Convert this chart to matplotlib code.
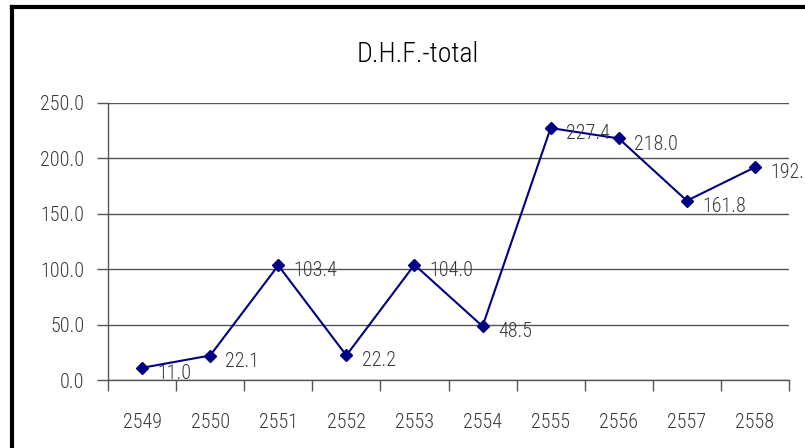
import matplotlib
matplotlib.use("Agg")
import matplotlib.pyplot as plt
from matplotlib.lines import Line2D
from matplotlib import font_manager
import numpy as np

years = ["2549", "2550", "2551", "2552", "2553", "2554", "2555", "2556", "2557", "2558"]
values = [11.0, 22.1, 103.4, 22.2, 104.0, 48.5, 227.4, 218.0, 161.8, 192.0]
yticks = [0, 50, 100, 150, 200, 250]
title = "D.H.F.-total"

# pick an upright condensed / narrow font if one is installed (light weight preferred)
def pick_font():
    entries = [e for e in font_manager.fontManager.ttflist
               if e.style == "normal" and "italic" not in e.fname.lower()
               and "oblique" not in e.fname.lower()]
    prefs = ["Liberation Sans Narrow", "Roboto Condensed", "Open Sans Condensed", "Noto Sans Condensed"]
    for p in prefs:
        for w in (300, 400):
            for e in entries:
                if e.name == p and e.weight == w:
                    return font_manager.FontProperties(fname=e.fname), e.name
    for e in entries:
        st = str(e.stretch).lower()
        if ("condensed" in st or "narrow" in e.fname.lower() or "condensed" in e.fname.lower()) \
                and "bold" not in e.fname.lower():
            return font_manager.FontProperties(fname=e.fname), e.name
    return font_manager.FontProperties(family="DejaVu Sans"), "DejaVu Sans"

FP, FNAME = pick_font()
condensed = FNAME != "DejaVu Sans"

def fp(size):
    p = FP.copy()
    p.set_size(size)
    return p

TEXT = "#3a3a3a"
W, H = 805, 448
fig = plt.figure(figsize=(W / 100, H / 100), dpi=100)
fig.patch.set_facecolor("white")

left, right, top, bottom = 108, 789, 103, 380
ax = fig.add_axes([left / W, 1 - bottom / H, (right - left) / W, (bottom - top) / H])

x = np.arange(len(years))
ax.plot(x, values, color="#000080", lw=1.5, marker="D", ms=6, mfc="#000080", mec="#000080", zorder=3)

lab_size = 14.5 if condensed else 12.5
for xi, v in zip(x, values):
    ax.annotate(f"{v:.1f}", (xi, v), xytext=(11, -4), textcoords="offset points",
                ha="left", va="center", fontproperties=fp(lab_size), color=TEXT, zorder=4)

ax.set_xlim(-0.5, len(years) - 0.5)
ax.set_ylim(0, 250)
ax.set_yticks(yticks)
ax.set_yticklabels([f"{t:.1f}" for t in yticks])
ax.yaxis.grid(True, color="#555555", lw=1)
ax.set_axisbelow(True)

ax.set_xticks(x)
ax.set_xticklabels(years)
ax.set_xticks(np.arange(-0.5, len(years)), minor=True)
ax.tick_params(axis="x", which="major", length=0, pad=24, labelcolor=TEXT)
ax.tick_params(axis="x", which="minor", length=8, width=1, color="#555555", direction="out")
ax.tick_params(axis="y", length=8, width=1, color="#555555", pad=9, labelcolor=TEXT)
for lbl in ax.get_xticklabels() + ax.get_yticklabels():
    lbl.set_fontproperties(fp(lab_size))

for s in ["top", "right"]:
    ax.spines[s].set_visible(False)
for s in ["left", "bottom"]:
    ax.spines[s].set_color("#555555")
    ax.spines[s].set_linewidth(1)

fig.text(418 / W, 1 - 54 / H, title, ha="center", va="center",
         fontproperties=fp(20 if condensed else 17), color="#000000")

# outer frame (left and top edges visible)
fig.add_artist(Line2D([11.5 / W, 11.5 / W], [0, 1 - 7.5 / H], transform=fig.transFigure,
                      color="black", lw=3, solid_capstyle="projecting"))
fig.add_artist(Line2D([11.5 / W, 1], [1 - 7.5 / H, 1 - 7.5 / H], transform=fig.transFigure,
                      color="black", lw=3, solid_capstyle="projecting"))

fig.savefig("out.png", dpi=100, facecolor="white")
